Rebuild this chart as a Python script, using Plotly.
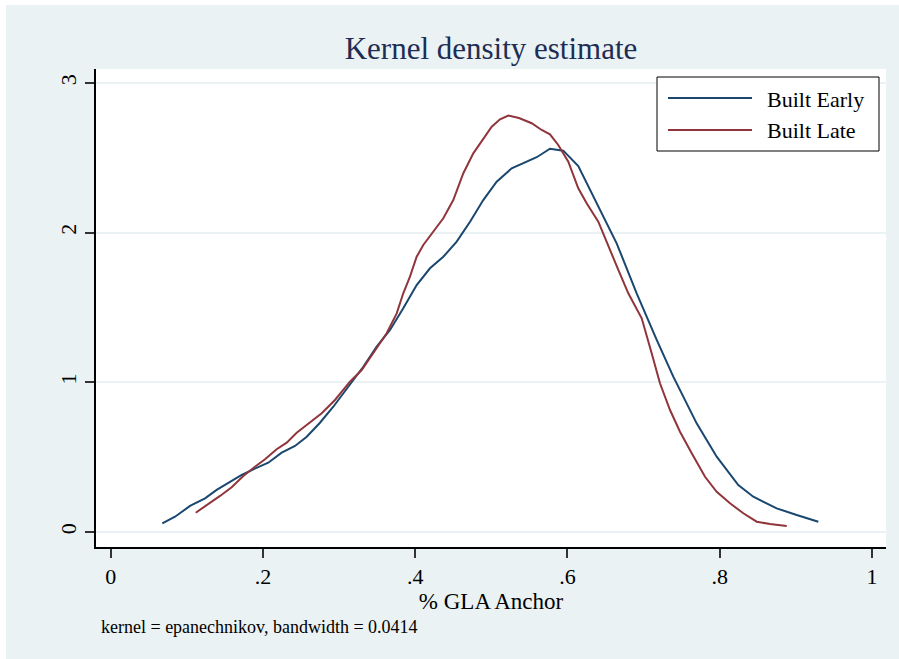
import plotly.graph_objects as go

# ---- data ----
early_x = [0.0678, 0.0845, 0.1042, 0.1239, 0.1392, 0.1567, 0.1721, 0.1873, 0.2070, 0.2246,
           0.2421, 0.2575, 0.2749, 0.2924, 0.3100, 0.3318, 0.3494, 0.3669, 0.3843, 0.4019,
           0.4194, 0.4369, 0.4545, 0.4720, 0.4894, 0.5070, 0.5267, 0.5420, 0.5596, 0.5770,
           0.5945, 0.6142, 0.6384, 0.6646, 0.6909, 0.7172, 0.7390, 0.7697, 0.7960, 0.8244,
           0.8441, 0.8748, 0.9011, 0.9295]
early_y = [0.058, 0.102, 0.174, 0.225, 0.281, 0.336, 0.381, 0.419, 0.463, 0.530,
           0.575, 0.637, 0.730, 0.837, 0.953, 1.104, 1.238, 1.350, 1.495, 1.650,
           1.762, 1.839, 1.940, 2.073, 2.218, 2.341, 2.430, 2.463, 2.504, 2.561,
           2.548, 2.445, 2.196, 1.929, 1.595, 1.283, 1.038, 0.726, 0.503, 0.314,
           0.236, 0.158, 0.114, 0.069]

late_x = [0.1117, 0.1304, 0.1436, 0.1589, 0.1742, 0.1895, 0.2027, 0.2180, 0.2312, 0.2443,
          0.2575, 0.2772, 0.2946, 0.3143, 0.3297, 0.3449, 0.3625, 0.3757, 0.3843, 0.3931,
          0.4019, 0.4106, 0.4237, 0.4369, 0.4500, 0.4632, 0.4763, 0.4894, 0.5005, 0.5114,
          0.5223, 0.5363, 0.5530, 0.5661, 0.5770, 0.5879, 0.6011, 0.6142, 0.6252, 0.6405,
          0.6536, 0.6668, 0.6799, 0.6975, 0.7106, 0.7215, 0.7347, 0.7478, 0.7632, 0.7807,
          0.7960, 0.8135, 0.8310, 0.8486, 0.8660, 0.8880]
late_y = [0.129, 0.192, 0.241, 0.299, 0.374, 0.436, 0.486, 0.553, 0.597, 0.663,
          0.715, 0.793, 0.882, 1.004, 1.082, 1.194, 1.328, 1.461, 1.595, 1.706,
          1.839, 1.918, 2.006, 2.096, 2.218, 2.397, 2.530, 2.624, 2.708, 2.757,
          2.783, 2.766, 2.731, 2.686, 2.657, 2.586, 2.474, 2.296, 2.196, 2.073,
          1.906, 1.751, 1.595, 1.428, 1.194, 0.994, 0.815, 0.670, 0.526, 0.369,
          0.269, 0.192, 0.125, 0.069, 0.053, 0.040]

series_names = ["Built Early", "Built Late"]
x_tickvals = [0, 0.2, 0.4, 0.6, 0.8, 1]
x_ticktext = ["0", ".2", ".4", ".6", ".8", "1"]
y_tickvals = [0, 1, 2, 3]
y_ticktext = ["0", "1", "2", "3"]

title_text = "Kernel density estimate"
x_title = "% GLA Anchor"
note_text = "kernel = epanechnikov, bandwidth = 0.0414"

# ---- styling ----
W, H = 899, 659
L, R, T, B = 96, 13, 69, 112
PW, PH = W - L - R, H - T - B
BG = "#EAF2F3"
C_EARLY = "#1A476F"
C_LATE = "#90353B"
SERIF = "Liberation Serif, Times New Roman, serif"


def px_x(p):
    return (p - L) / PW


def px_y(p):
    return (H - B - p) / PH


fig = go.Figure()
fig.add_trace(go.Scatter(x=early_x, y=early_y, mode="lines", name=series_names[0],
                         line=dict(color=C_EARLY, width=2), showlegend=False))
fig.add_trace(go.Scatter(x=late_x, y=late_y, mode="lines", name=series_names[1],
                         line=dict(color=C_LATE, width=2), showlegend=False))

shapes = [
    # white outer border strips (left / top)
    dict(type="rect", xref="paper", yref="paper", x0=px_x(0), x1=px_x(6), y0=px_y(H), y1=px_y(0),
         fillcolor="white", line=dict(width=0), layer="below"),
    dict(type="rect", xref="paper", yref="paper", x0=px_x(0), x1=px_x(W), y0=px_y(5), y1=px_y(0),
         fillcolor="white", line=dict(width=0), layer="below"),
    # legend box
    dict(type="rect", xref="paper", yref="paper", x0=px_x(657), x1=px_x(879), y0=px_y(151), y1=px_y(77),
         fillcolor="white", line=dict(color="black", width=1)),
    dict(type="line", xref="paper", yref="paper", x0=px_x(668), x1=px_x(752), y0=px_y(98), y1=px_y(98),
         line=dict(color=C_EARLY, width=2)),
    dict(type="line", xref="paper", yref="paper", x0=px_x(668), x1=px_x(752), y0=px_y(130), y1=px_y(130),
         line=dict(color=C_LATE, width=2)),
]

annotations = [
    dict(text=series_names[0], xref="paper", yref="paper", x=px_x(765), y=px_y(99),
         xanchor="left", yanchor="middle", showarrow=False, font=dict(family=SERIF, size=22, color="black")),
    dict(text=series_names[1], xref="paper", yref="paper", x=px_x(765), y=px_y(131),
         xanchor="left", yanchor="middle", showarrow=False, font=dict(family=SERIF, size=22, color="black")),
    dict(text=note_text, xref="paper", yref="paper", x=px_x(99), y=px_y(627),
         xanchor="left", yanchor="middle", showarrow=False, font=dict(family=SERIF, size=18, color="black")),
]

fig.update_layout(
    width=W, height=H,
    margin=dict(l=L, r=R, t=T, b=B, pad=0),
    paper_bgcolor=BG, plot_bgcolor="white",
    title=dict(text=title_text, x=0.5, xref="paper", y=1 - 48 / H, yref="container",
               xanchor="center", yanchor="middle",
               font=dict(family=SERIF, size=31, color="#1E2D53")),
    showlegend=False,
    shapes=shapes,
    annotations=annotations,
    xaxis=dict(range=[-0.0193, 1.0184], tickvals=x_tickvals, ticktext=x_ticktext,
               showgrid=False, zeroline=False, showline=True, linecolor="black", linewidth=1.5,
               ticks="outside", ticklen=9, tickwidth=1.5, tickcolor="#333333",
               tickfont=dict(family=SERIF, size=22, color="black"),
               title=dict(text=x_title, standoff=0, font=dict(family=SERIF, size=23, color="black"))),
    yaxis=dict(range=[-0.1002, 3.0935], tickvals=y_tickvals, ticktext=y_ticktext,
               showgrid=True, gridcolor=BG, gridwidth=2, zeroline=False,
               showline=True, linecolor="black", linewidth=1.5,
               ticks="outside", ticklen=9, tickwidth=1.5, tickcolor="#333333", tickangle=-90,
               tickfont=dict(family=SERIF, size=22, color="black")),
)

fig.write_html("out.html")
